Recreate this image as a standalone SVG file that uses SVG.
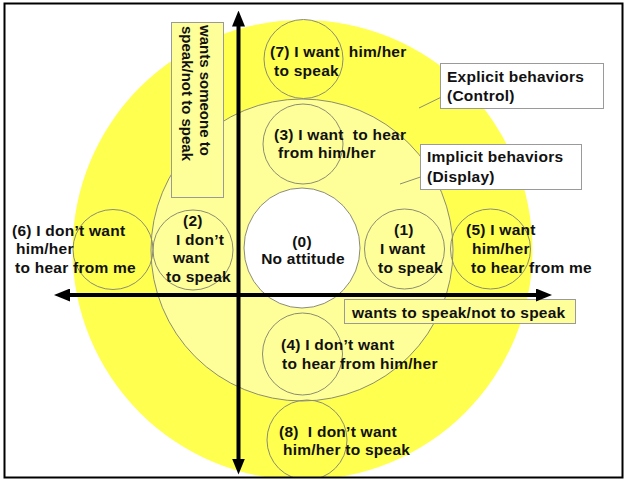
<svg xmlns="http://www.w3.org/2000/svg" width="626" height="480" viewBox="0 0 626 480">
  <style>
    .t { font-family: "Liberation Sans", Arial, Helvetica, sans-serif; font-weight: bold; font-size: 15.5px; letter-spacing: 0.25px; fill: #111; white-space: pre; }
    .v { font-size: 15px; letter-spacing: 0; }
    .ring { fill: none; stroke: #8c8c74; stroke-width: 1; }
    .box { fill: #ffffff; stroke: #9a9a9a; stroke-width: 1; }
    .ybox { fill: #ffff99; stroke: #9a9a9a; stroke-width: 1; }
    .axis { stroke: #000; stroke-width: 4; fill: none; }
    .lead { stroke: #8c8c74; stroke-width: 1; fill: none; }
  </style>
  <defs>
    <marker id="head" viewBox="0 0 16 13" refX="1" refY="6.5" markerWidth="16" markerHeight="13" markerUnits="userSpaceOnUse" orient="auto-start-reverse">
      <path d="M0,0 L16,6.5 L0,13 z" fill="#000"/>
    </marker>
    <clipPath id="frame">
      <rect x="5" y="4" width="617" height="473"/>
    </clipPath>
  </defs>

  <rect x="0" y="0" width="626" height="480" fill="#ffffff"/>

  <!-- rings -->
  <g clip-path="url(#frame)">
    <g id="explicit-ring">
      <circle cx="302.5" cy="250" r="230" fill="#ffff50"/>
    </g>
    <g id="implicit-ring">
      <circle cx="302" cy="250" r="151" fill="#ffff99" stroke="#8c8c74" stroke-width="1"/>
    </g>

    <g id="node-0">
      <ellipse cx="302" cy="248" rx="58" ry="60" fill="#ffffff" stroke="#8c8c74" stroke-width="1"/>
      <text class="t" x="302" y="246.5" text-anchor="middle">(0)</text>
      <text class="t" x="303" y="264" text-anchor="middle">No attitude</text>
    </g>

    <g id="node-7">
      <circle class="ring" cx="303.5" cy="59" r="39.5"/>
      <text class="t" x="270" y="57">(7) I want  him/her</text>
      <text class="t" x="274" y="76">to speak</text>
    </g>

    <g id="node-3">
      <ellipse class="ring" cx="303" cy="144" rx="40" ry="40"/>
      <text class="t" x="274" y="140">(3) I want  to hear</text>
      <text class="t" x="278" y="158">from him/her</text>
    </g>

    <g id="node-4">
      <ellipse class="ring" cx="302.5" cy="354" rx="40" ry="41"/>
      <text class="t" x="281" y="350">(4) I don’t want</text>
      <text class="t" x="282" y="369">to hear from him/her</text>
    </g>

    <g id="node-8">
      <circle class="ring" cx="307" cy="440" r="40"/>
      <text class="t" x="279" y="437">(8)  I don’t want</text>
      <text class="t" x="283" y="455">him/her to speak</text>
    </g>

    <g id="node-6">
      <circle class="ring" cx="113" cy="249.5" r="40"/>
      <text class="t" x="12" y="236">(6) I don’t want</text>
      <text class="t" x="16" y="254">him/her</text>
      <text class="t" x="15" y="273">to hear from me</text>
    </g>

    <g id="node-2">
      <circle class="ring" cx="193" cy="250" r="40"/>
      <text class="t" x="183" y="226">(2)</text>
      <text class="t" x="176" y="245">I don’t</text>
      <text class="t" x="173" y="263">want</text>
      <text class="t" x="166" y="282">to speak</text>
    </g>

    <g id="node-1">
      <circle class="ring" cx="404.5" cy="249" r="40"/>
      <text class="t" x="394" y="235">(1)</text>
      <text class="t" x="380" y="254">I want</text>
      <text class="t" x="378" y="273">to speak</text>
    </g>

    <g id="node-5">
      <circle class="ring" cx="490.5" cy="249" r="40"/>
      <text class="t" x="466" y="235">(5) I want</text>
      <text class="t" x="472" y="254">him/her</text>
      <text class="t" x="471" y="273">to hear from me</text>
    </g>
  </g>

  <!-- axis labels -->
  <g id="label-vertical">
    <rect class="ybox" x="171.5" y="22.5" width="52" height="175"/>
    <text class="t v" transform="translate(200,25) rotate(90)">wants someone to</text>
    <text class="t v" transform="translate(182,26) rotate(90)">speak/not to speak</text>
  </g>

  <g id="label-horizontal">
    <rect class="ybox" x="344.5" y="299.5" width="231" height="24"/>
    <text class="t" x="352" y="318">wants to speak/not to speak</text>
  </g>

  <g id="label-explicit">
    <rect class="box" x="440.5" y="63.5" width="163" height="45"/>
    <text class="t" x="447" y="82">Explicit behaviors</text>
    <text class="t" x="447" y="101">(Control)</text>
  </g>

  <g id="label-implicit">
    <rect class="box" x="420.5" y="144.5" width="161" height="45"/>
    <text class="t" x="427" y="162">Implicit behaviors</text>
    <text class="t" x="427" y="182">(Display)</text>
  </g>

  <!-- connectors -->
  <g id="connectors">
    <line class="axis" x1="238.5" y1="25.5" x2="238.5" y2="459.5" marker-start="url(#head)" marker-end="url(#head)"/>
    <line class="axis" x1="69" y1="295" x2="537" y2="295" marker-start="url(#head)" marker-end="url(#head)"/>
    <line class="lead" x1="419" y1="108" x2="440.5" y2="97.5"/>
    <line class="lead" x1="400" y1="184" x2="420.5" y2="177"/>
  </g>

  <!-- frame -->
  <rect x="4.5" y="3.5" width="618" height="474" fill="none" stroke="#000" stroke-width="2"/>
</svg>
